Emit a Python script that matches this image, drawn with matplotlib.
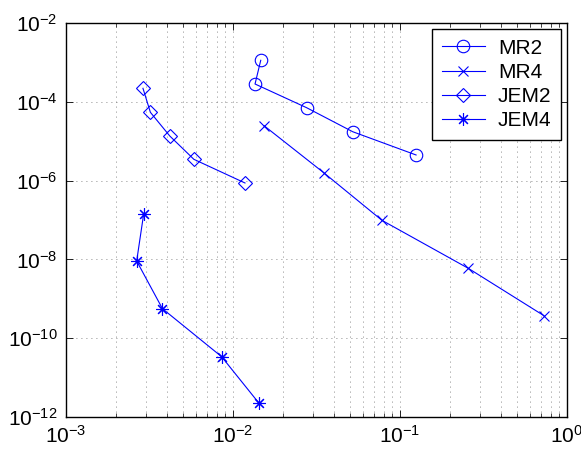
#!/usr/bin/python
# -*- coding: utf-8 -*-
"""Convergence plot: error against cost for MR and JEM schemes."""

import matplotlib
matplotlib.use("Agg")
import matplotlib.pyplot as plt
from matplotlib.ticker import LogLocator, FixedLocator, NullLocator, NullFormatter

# Data
mr2_x = [0.1248, 0.0521, 0.0276, 0.01355, 0.01466]
mr2_y = [4.47e-6, 1.74e-5, 7.08e-5, 2.83e-4, 1.13e-3]

mr4_x = [0.728, 0.2564, 0.0780, 0.0351, 0.01535]
mr4_y = [3.72e-10, 5.94e-9, 9.8e-8, 1.56e-6, 2.47e-5]

jem2_x = [0.0118, 5.83e-3, 4.18e-3, 3.20e-3, 2.89e-3]
jem2_y = [8.7e-7, 3.47e-6, 1.36e-5, 5.42e-5, 2.20e-4]

jem4_x = [0.01432, 8.55e-3, 3.78e-3, 2.65e-3, 2.92e-3]
jem4_y = [2.23e-12, 3.39e-11, 5.61e-10, 9.1e-9, 1.45e-7]

labels = ["MR2", "MR4", "JEM2", "JEM4"]
y_ticks = [1e-12, 1e-10, 1e-8, 1e-6, 1e-4, 1e-2]

plt.rcParams["font.family"] = ["Liberation Sans", "DejaVu Sans"]
plt.rcParams["mathtext.fontset"] = "custom"
plt.rcParams["mathtext.rm"] = "Liberation Sans"
plt.rcParams["mathtext.it"] = "Liberation Sans:italic"
plt.rcParams["mathtext.bf"] = "Liberation Sans:bold"
plt.rcParams["font.size"] = 14

fig_dpi = 100
fig = plt.figure(figsize=(581 / fig_dpi, 455 / fig_dpi), dpi=fig_dpi)
ax = fig.add_axes([66 / 581, 1 - 417 / 455, (567 - 66) / 581, (417 - 23) / 455])

blue = (0, 0, 1)
lw = 0.8
ax.loglog(mr2_x, mr2_y, color=blue, lw=lw, marker="o", ms=9, mfc="none", mew=lw, label=labels[0])
ax.loglog(mr4_x, mr4_y, color=blue, lw=lw, marker="x", ms=7, mew=lw, label=labels[1])
ax.loglog(jem2_x, jem2_y, color=blue, lw=lw, marker="D", ms=7, mfc="none", mew=lw, label=labels[2])
ax.loglog(jem4_x, jem4_y, color=blue, lw=lw, marker=(8, 2, 0), ms=9, mew=lw, label=labels[3])

ax.set_xlim(1e-3, 1e0)
ax.set_ylim(1e-12, 1e-2)
ax.xaxis.set_major_locator(LogLocator(base=10, numticks=10))
ax.xaxis.set_minor_locator(LogLocator(base=10, subs=range(2, 10), numticks=20))
ax.xaxis.set_minor_formatter(NullFormatter())
ax.yaxis.set_major_locator(FixedLocator(y_ticks))
ax.yaxis.set_minor_locator(NullLocator())

ax.tick_params(which="both", direction="in", top=True, right=True)
ax.tick_params(which="major", length=5, width=0.6, labelsize=15, pad=6)
ax.tick_params(which="minor", length=3, width=0.5)
grid_style = dict(linestyle=(0, (1, 5)), color="0.4", linewidth=0.6)
ax.grid(True, which="major", **grid_style)
ax.grid(True, which="minor", axis="x", **grid_style)

for spine in ax.spines.values():
    spine.set_linewidth(1.0)

leg = ax.legend(loc="upper right", fancybox=False, framealpha=1, edgecolor="black",
                handlelength=2.1, borderaxespad=0.3, labelspacing=0.25, handletextpad=0.6,
                borderpad=0.45, fontsize=15)
leg.get_frame().set_linewidth(1.0)

fig.savefig("out.png", dpi=fig_dpi)
